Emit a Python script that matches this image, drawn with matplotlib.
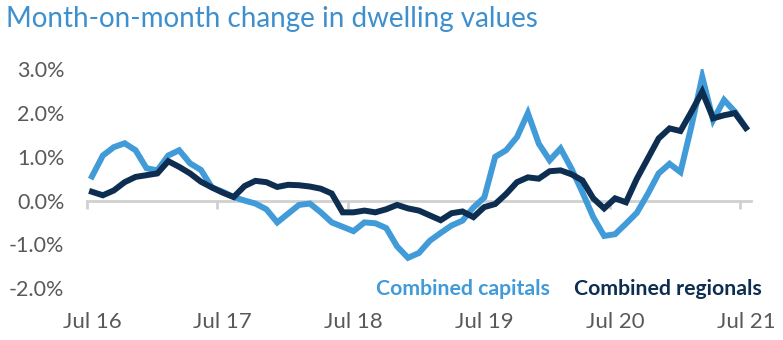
import numpy as np
import matplotlib.pyplot as plt
from matplotlib.transforms import blended_transform_factory

# Monthly change (%) Jul 16 .. Jul 21
capitals = [0.55, 1.03, 1.22, 1.31, 1.15, 0.74, 0.69, 1.03, 1.15, 0.85,
            0.70, 0.30, 0.20, 0.08, 0.00, -0.07, -0.20, -0.50, -0.30, -0.10,
            -0.07, -0.27, -0.50, -0.60, -0.70, -0.50, -0.52, -0.63, -1.05, -1.31,
            -1.20, -0.92, -0.74, -0.57, -0.46, -0.16, 0.07, 1.00, 1.15, 1.45,
            2.00, 1.30, 0.92, 1.19, 0.73, 0.19, -0.38, -0.81, -0.77, -0.53,
            -0.28, 0.15, 0.62, 0.84, 0.65, 1.69, 2.83, 1.84, 2.30, 2.03,
            1.67]
regionals = [0.20, 0.12, 0.23, 0.42, 0.54, 0.58, 0.62, 0.90, 0.77, 0.62,
             0.43, 0.30, 0.18, 0.08, 0.33, 0.45, 0.42, 0.31, 0.36, 0.35,
             0.32, 0.27, 0.16, -0.27, -0.27, -0.23, -0.27, -0.20, -0.10, -0.18,
             -0.23, -0.34, -0.45, -0.29, -0.25, -0.38, -0.15, -0.08, 0.15, 0.42,
             0.53, 0.50, 0.67, 0.69, 0.60, 0.46, 0.05, -0.18, 0.05, -0.04,
             0.50, 0.96, 1.42, 1.65, 1.59, 2.03, 2.49, 1.88, 1.95, 2.00,
             1.66]
x_labels = ["Jul 16", "Jul 17", "Jul 18", "Jul 19", "Jul 20", "Jul 21"]
y_ticks = [3.0, 2.0, 1.0, 0.0, -1.0, -2.0]

LIGHT = "#419bd8"
NAVY = "#0d2e51"
GREY = "#595959"

plt.rcParams['font.family'] = ['Lato', 'DejaVu Sans']

fig = plt.figure(figsize=(7.83, 3.4), dpi=100)
ax = fig.add_axes([0.1105, 0.153, 0.849, 0.643])

months = np.arange(len(capitals))
ax.plot(months, capitals, color=LIGHT, lw=4.3, solid_joinstyle='miter', zorder=3)
ax.plot(months, regionals, color=NAVY, lw=4.3, solid_joinstyle='miter', zorder=4)

ax.set_xlim(-0.5, 60.5)
ax.set_ylim(-2.0, 3.0)

# zero line with category boundary ticks
for s in ['top', 'right', 'left']:
    ax.spines[s].set_visible(False)
ax.spines['bottom'].set_position(('data', 0))
ax.spines['bottom'].set_color('#d0d0d0')
ax.spines['bottom'].set_linewidth(2)
ax.set_xticks(np.arange(-0.5, 60, 12))
ax.tick_params(axis='x', length=6, width=2, color='#d0d0d0', labelbottom=False)

trans = blended_transform_factory(ax.transData, ax.transAxes)
for i, lab in enumerate(x_labels):
    ax.text(i * 12, -0.155, lab, transform=trans, ha='center', va='center',
            fontsize=16, color=GREY)

ax.set_yticks(y_ticks)
ax.set_yticklabels([f"{v:.1f}%" for v in y_ticks], fontsize=15.5, color=GREY)
ax.tick_params(axis='y', length=0, pad=16)

ax.text(42.0, -2.03, "Combined capitals", ha='right', va='center',
        fontsize=15.3, fontweight='bold', color=LIGHT)
ax.text(44.2, -2.03, "Combined regionals", ha='left', va='center',
        fontsize=15.3, fontweight='bold', color=NAVY)

fig.text(0.008, 0.945, "Month-on-month change in dwelling values", ha='left',
         va='center', fontsize=20, color="#3d8fcd")

fig.savefig("out.png", dpi=100)
